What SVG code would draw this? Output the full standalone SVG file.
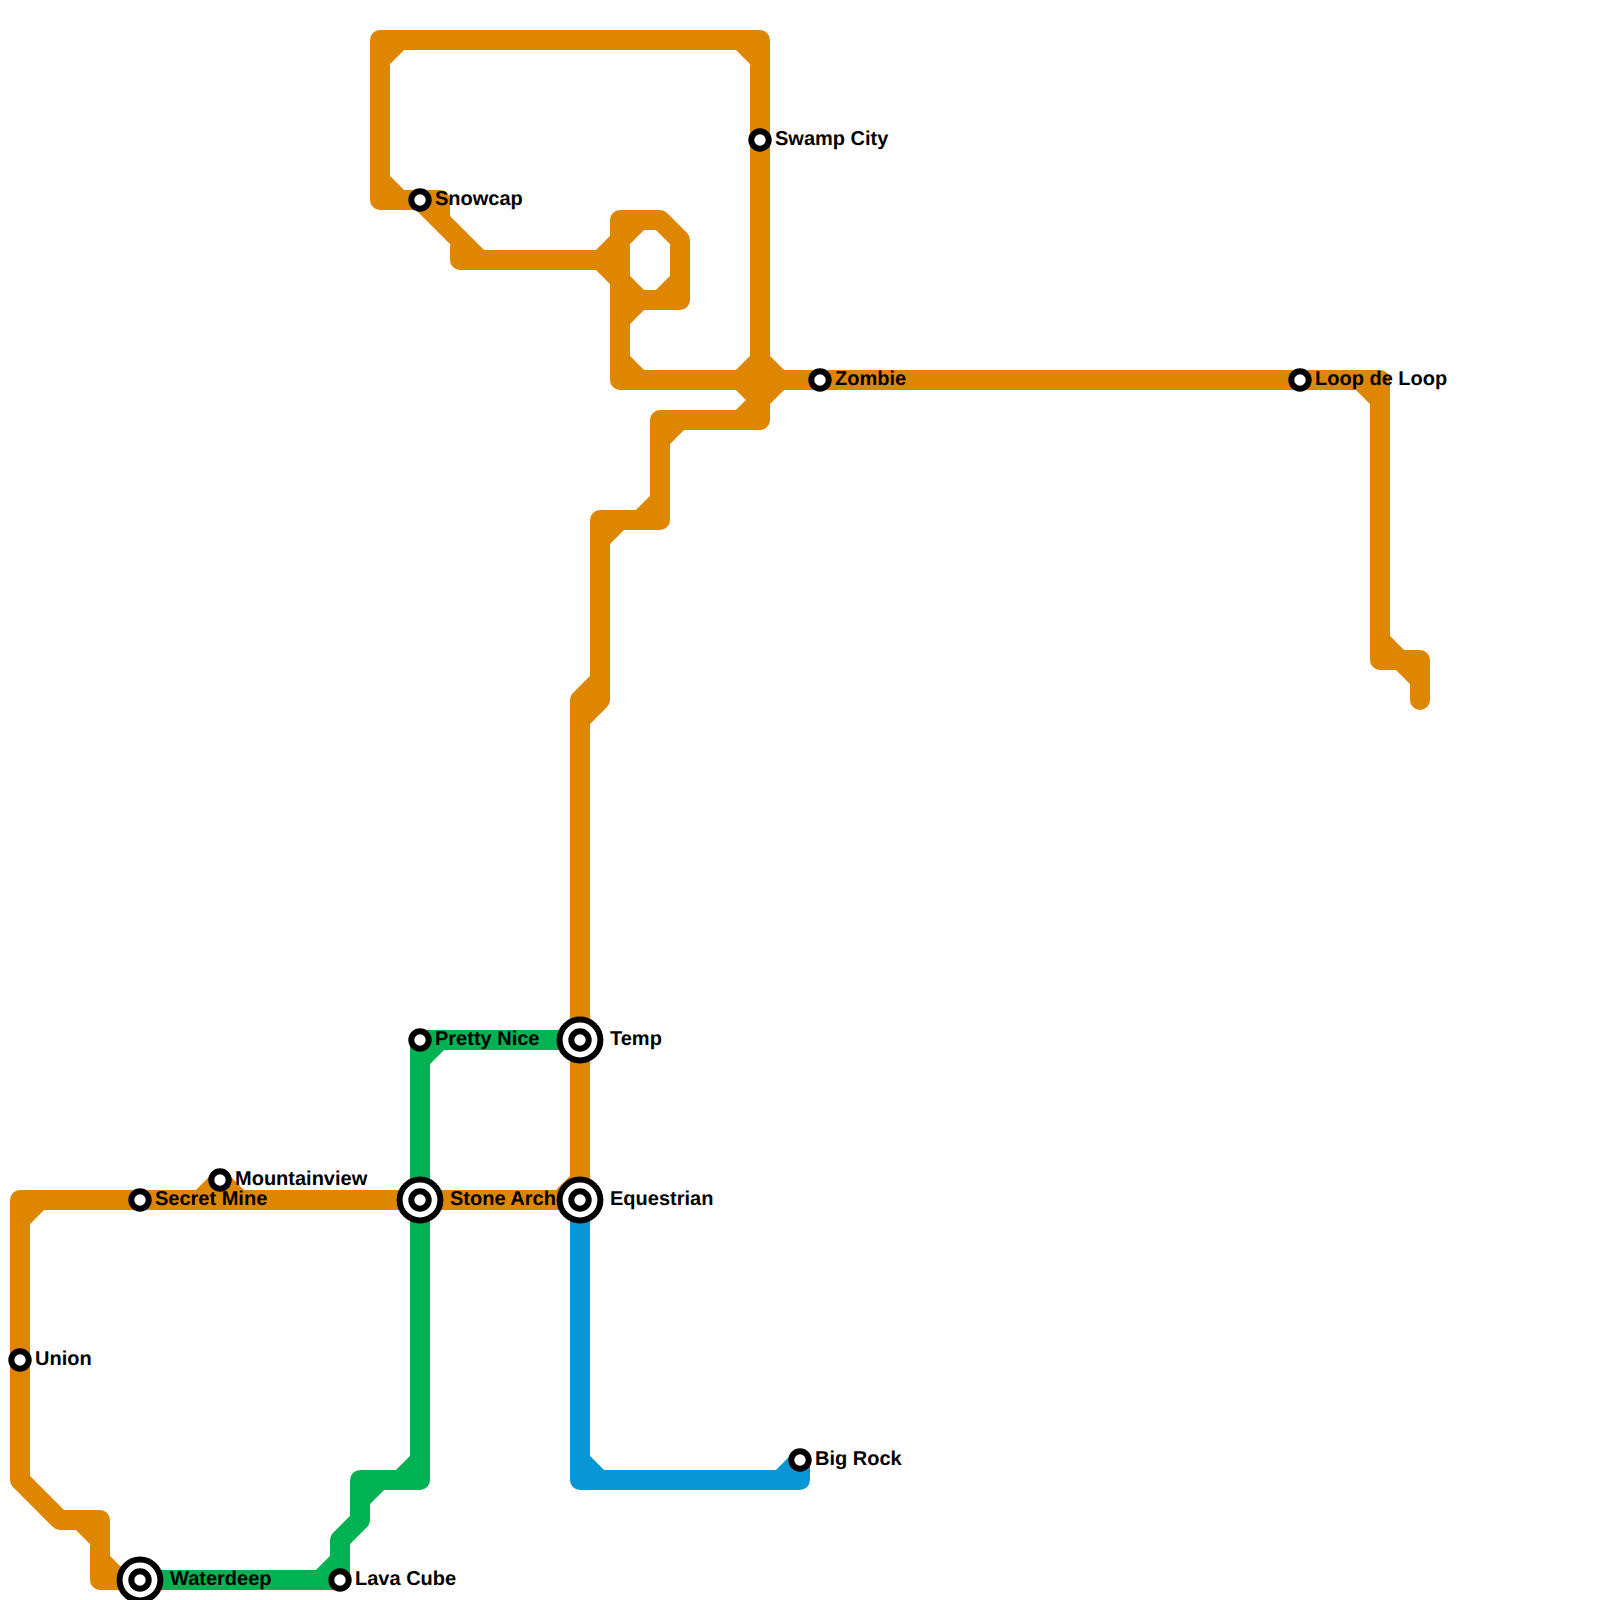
<svg xmlns="http://www.w3.org/2000/svg" width="1600" height="1600" viewBox="0 0 1600 1600">
<style>
.line{fill:none;stroke-width:20;stroke-linecap:round;stroke-linejoin:round}
.orange{stroke:#df8600}.green{stroke:#00b251}.blue{stroke:#0896d7}
.ring{fill:#fff;stroke:#000;stroke-width:6}
text{font-family:"Liberation Sans",Arial,sans-serif;font-weight:bold;font-size:20px;fill:#000;text-rendering:geometricPrecision}
</style>
<rect width="1600" height="1600" fill="#fff"/>
<g id="connectors">
<path id="line-orange" class="line orange" d="M1420 700V660H1380V380H620V220H660L680 240V300H620
M600 260H460V240L420 200H380V40H760V420H660V520H600V700L580 720M580 700V1200H20V1480L60 1520H100V1580H140
M440 200V220M380 60L400 40M740 40L760 60M380 180L400 200M600 260L620 240M600 260L620 280M620 240L640 220M620 280L640 300M680 280L660 300M620 320L640 300M620 360L640 380
M740 380L760 360L780 380L760 400L740 380M760 400L740 420M660 440L680 420M640 520L660 500M600 540L620 520M580 700L600 680M560 1200L580 1180
M420 200H440M460 240L480 260M20 1220L40 1200M80 1520L100 1540M100 1560L120 1580M200 1200L220 1180L240 1200M1360 380L1380 400M1380 640L1400 660L1420 680"/>
<path id="line-green" class="line green" d="M140 1580H340V1540L360 1520V1480H420V1040H580
M320 1580L340 1560M360 1500L380 1480M400 1480L420 1460M420 1060L440 1040"/>
<path id="line-blue" class="line blue" d="M580 1200V1480H800V1460M580 1460L600 1480M780 1480L800 1460"/>
</g>
<g id="snowcap"><circle class="ring" cx="420" cy="200" r="8.7"/><text x="435" y="205">Snowcap</text></g>
<g id="swamp-city"><circle class="ring" cx="760" cy="140" r="8.7"/><text x="775" y="145">Swamp City</text></g>
<g id="zombie"><circle class="ring" cx="820" cy="380" r="8.7"/><text x="835" y="385">Zombie</text></g>
<g id="loop-de-loop"><circle class="ring" cx="1300" cy="380" r="8.7"/><text x="1315" y="385">Loop de Loop</text></g>
<g id="pretty-nice"><circle class="ring" cx="420" cy="1040" r="8.7"/><text x="435" y="1045">Pretty Nice</text></g>
<g id="temp"><circle class="ring" cx="580" cy="1040" r="20.4"/><circle class="ring" cx="580" cy="1040" r="8.7"/><text x="610" y="1045">Temp</text></g>
<g id="stone-arch"><circle class="ring" cx="420" cy="1200" r="20.4"/><circle class="ring" cx="420" cy="1200" r="8.7"/><text x="450" y="1205">Stone Arch</text></g>
<g id="equestrian"><circle class="ring" cx="580" cy="1200" r="20.4"/><circle class="ring" cx="580" cy="1200" r="8.7"/><text x="610" y="1205">Equestrian</text></g>
<g id="mountainview"><circle class="ring" cx="220" cy="1180" r="8.7"/><text x="235" y="1185">Mountainview</text></g>
<g id="secret-mine"><circle class="ring" cx="140" cy="1200" r="8.7"/><text x="155" y="1205">Secret Mine</text></g>
<g id="union"><circle class="ring" cx="20" cy="1360" r="8.7"/><text x="35" y="1365">Union</text></g>
<g id="waterdeep"><circle class="ring" cx="140" cy="1580" r="20.4"/><circle class="ring" cx="140" cy="1580" r="8.7"/><text x="170" y="1585">Waterdeep</text></g>
<g id="lava-cube"><circle class="ring" cx="340" cy="1580" r="8.7"/><text x="355" y="1585">Lava Cube</text></g>
<g id="big-rock"><circle class="ring" cx="800" cy="1460" r="8.7"/><text x="815" y="1465">Big Rock</text></g>
</svg>
